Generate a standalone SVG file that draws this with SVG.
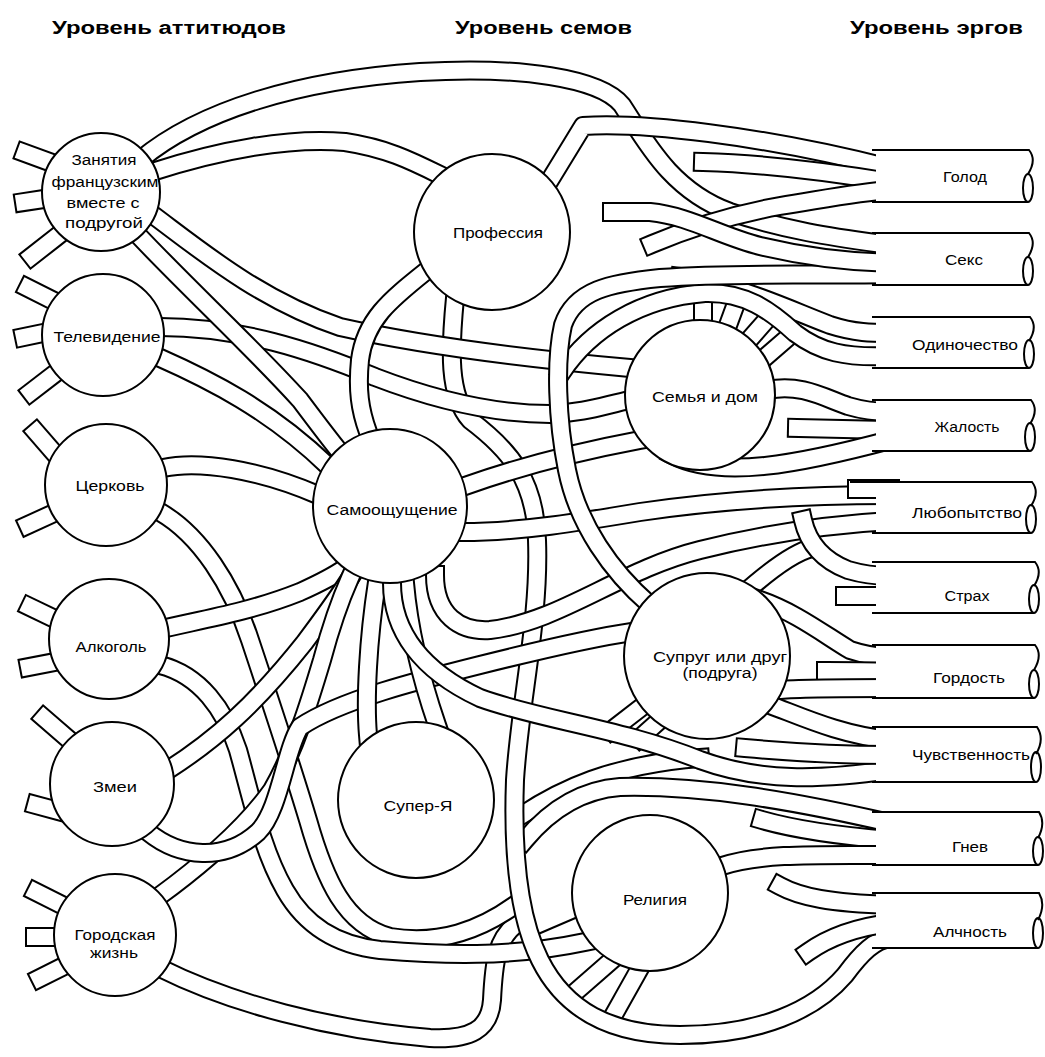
<svg xmlns="http://www.w3.org/2000/svg" width="1045" height="1057" viewBox="0 0 1045 1057">
<style>
.o{fill:none;stroke:#000;stroke-width:20;stroke-linecap:square;stroke-linejoin:round}
.i{fill:none;stroke:#fff;stroke-width:16;stroke-linecap:square;stroke-linejoin:round}
.n{fill:#fff;stroke:#000;stroke-width:2}
.ef{fill:#fff;stroke:none}
.el{fill:none;stroke:#000;stroke-width:2}
text{font-family:"Liberation Sans",Arial,sans-serif;font-size:14px;fill:#000;text-anchor:middle}
.h{font-size:18px;font-weight:bold;text-anchor:start}
</style>
<rect width="1045" height="1057" fill="#fff"/>
<defs>
<path id="s1" d="M55,164 L25,153"/><path id="s2" d="M50,198 L24,202"/><path id="s3" d="M55,238 L32,256"/>
<path id="s4" d="M52,300 L28,288"/><path id="s5" d="M48,332 L24,337"/><path id="s6" d="M57,372 L31,392"/>
<path id="s7" d="M62,462 L36,432"/><path id="s8" d="M52,514 L28,525"/><path id="s9" d="M57,620 L30,607"/>
<path id="s10" d="M55,662 L29,667"/><path id="s11" d="M74,744 L44,718"/><path id="s12" d="M62,812 L36,805"/>
<path id="s13" d="M64,906 L36,892"/><path id="s14" d="M60,937 L35,937"/><path id="s15" d="M64,966 L40,978"/>
<path id="r1" d="M703,290 L703,325"/><path id="r2" d="M738,298 L727,328"/><path id="r3" d="M770,316 L748,341"/><path id="r4" d="M792,334 L762,360"/>
<path id="r5" d="M540,943 L582,925"/><path id="r6" d="M572,995 L612,960"/><path id="r7" d="M612,1018 L640,968"/>
<path id="r8" d="M612,730 L643,706"/><path id="r9" d="M640,738 L660,720"/>
<path id="gj2" d="M160,968 C230,1003 330,1030 430,1038 C470,1040 490,1030 492,1000 C494,960 497,940 515,925"/>
<path id="c2" d="M160,512 C200,535 232,585 250,640 C270,700 290,760 308,820 C325,880 345,925 390,937 C440,945 480,930 515,905"/>
<path id="al2" d="M160,665 C200,675 225,710 238,750 C252,800 262,850 285,890 C305,925 335,945 380,950 C440,955 510,958 585,942"/>
<path id="pv2" d="M522,815 C560,790 610,765 700,758"/>
<path id="gn1" d="M525,840 C550,810 580,790 620,787 C700,785 790,800 890,823"/>
<path id="pv" d="M455,298 C450,350 448,395 470,420 C510,450 535,480 537,540 C540,620 520,700 515,780 C512,860 520,920 540,960 C565,1010 610,1035 680,1035 C760,1035 815,1010 845,975 C862,952 875,940 890,938"/>
<path id="z1" d="M140,160 C200,110 300,80 420,72 C520,66 600,78 622,105 C645,140 670,190 730,212 C790,232 840,238 890,245"/>
<path id="z2" d="M152,172 C220,150 290,137 345,142 C385,148 410,160 440,175"/>
<path id="z3" d="M153,215 C200,250 260,300 340,327 C420,345 520,358 630,368"/>
<path id="tv1" d="M160,327 C240,327 310,350 375,377 C440,402 500,414 550,414 C585,413 605,405 630,400"/>
<path id="z4" d="M138,235 C190,290 250,345 300,400 C315,420 330,440 340,452"/>
<path id="tv2" d="M158,357 C210,380 270,410 328,466"/>
<path id="c1" d="M163,468 C200,460 260,470 318,495"/>
<path id="al1" d="M166,628 C200,620 250,612 300,592 C320,583 335,575 345,568"/>
<path id="zm1" d="M168,770 C215,740 255,705 305,642 C325,615 340,595 352,575"/>
<path id="gj1" d="M158,897 C206,862 245,828 272,790 C295,750 310,700 322,660 C330,630 338,605 350,578"/>
<path id="zm2" d="M148,832 C180,858 225,862 258,832 C280,810 285,750 300,727 C340,700 420,680 480,665 C540,650 590,638 632,632"/>
<path id="ps" d="M425,272 C390,300 365,320 360,360 C357,390 360,410 368,432"/>
<path id="ss1" d="M377,582 C368,640 365,700 368,735"/>
<path id="ss2" d="M405,583 C410,640 425,690 437,725"/>
<path id="sa2" d="M465,486 C510,470 560,455 640,440"/>
<path id="l1" d="M463,532 C520,532 580,522 640,512 C720,500 800,495 890,495"/>
<path id="l3" d="M435,575 C435,615 460,632 490,630 C560,622 620,570 700,550 C760,535 820,525 890,521"/>
<path id="ch3" d="M392,583 C392,630 420,670 480,698 C540,720 620,728 700,760 C760,782 820,780 890,770"/>
<path id="o2" d="M680,277 C740,285 790,310 830,325 C855,333 872,333 890,333"/>
<path id="o1" d="M562,372 C590,330 640,298 705,293 C745,292 770,310 795,333 C820,352 845,358 890,356"/>
<path id="v1" d="M650,605 C612,572 578,525 567,470 C557,420 555,360 563,325 C575,290 610,283 660,278 C740,272 820,276 890,274"/>
<path id="pg" d="M550,180 L583,126 C640,122 760,135 890,168"/>
<path id="g2" d="M703,162 C770,164 830,172 890,182"/>
<path id="g3" d="M652,244 C690,228 730,215 780,206 C830,198 860,192 890,190"/>
<path id="s2t" d="M612,212 L650,212 C690,216 720,236 760,246 C810,258 850,262 890,263"/>
<path id="j1" d="M768,390 C800,383 825,398 848,406 C865,411 878,412 890,412"/>
<path id="j2" d="M797,428 L890,430"/>
<path id="j3" d="M672,455 C720,480 800,464 890,440"/>
<path id="l2" d="M857,489 L890,489"/>
<path id="su1" d="M742,595 C770,570 795,552 812,548"/>
<path id="st1" d="M803,520 C808,542 822,560 848,570 C865,575 878,576 890,576"/>
<path id="st2" d="M845,596 L890,596"/>
<path id="go1" d="M760,600 C795,612 825,635 850,650 C865,655 878,657 890,657"/>
<path id="go2" d="M826,671 C845,671 865,671 890,672"/>
<path id="go3" d="M780,690 C800,688 840,688 890,688"/>
<path id="ch1" d="M770,705 C800,716 840,735 890,740"/>
<path id="ch2" d="M745,748 C790,752 840,755 890,755"/>
<path id="gn2" d="M762,820 C790,828 830,835 890,840"/>
<path id="gn3" d="M722,866 C760,853 820,855 890,855"/>
<path id="a1" d="M780,886 C800,897 830,903 890,905"/>
<path id="a2" d="M808,952 C825,940 850,928 890,923"/>
</defs>
<g id="connectors">
<use href="#s1" class="o"/><use href="#s1" class="i"/><use href="#s2" class="o"/><use href="#s2" class="i"/><use href="#s3" class="o"/><use href="#s3" class="i"/>
<use href="#s4" class="o"/><use href="#s4" class="i"/><use href="#s5" class="o"/><use href="#s5" class="i"/><use href="#s6" class="o"/><use href="#s6" class="i"/>
<use href="#s7" class="o"/><use href="#s7" class="i"/><use href="#s8" class="o"/><use href="#s8" class="i"/><use href="#s9" class="o"/><use href="#s9" class="i"/>
<use href="#s10" class="o"/><use href="#s10" class="i"/><use href="#s11" class="o"/><use href="#s11" class="i"/><use href="#s12" class="o"/><use href="#s12" class="i"/>
<use href="#s13" class="o"/><use href="#s13" class="i"/><use href="#s14" class="o"/><use href="#s14" class="i"/><use href="#s15" class="o"/><use href="#s15" class="i"/>
<use href="#r1" class="o"/><use href="#r1" class="i"/><use href="#r2" class="o"/><use href="#r2" class="i"/><use href="#r3" class="o"/><use href="#r3" class="i"/><use href="#r4" class="o"/><use href="#r4" class="i"/>
<use href="#r5" class="o"/><use href="#r5" class="i"/><use href="#r6" class="o"/><use href="#r6" class="i"/><use href="#r7" class="o"/><use href="#r7" class="i"/>
<use href="#r8" class="o"/><use href="#r8" class="i"/><use href="#r9" class="o"/><use href="#r9" class="i"/>
<use href="#gj2" class="o"/><use href="#gj2" class="i"/>
<use href="#c2" class="o"/><use href="#c2" class="i"/>
<use href="#al2" class="o"/><use href="#al2" class="i"/>
<use href="#pv2" class="o"/><use href="#pv2" class="i"/>
<use href="#gn1" class="o"/><use href="#gn1" class="i"/>
<use href="#pv" class="o"/><use href="#pv" class="i"/>
<use href="#z1" class="o"/><use href="#z1" class="i"/>
<use href="#z2" class="o"/><use href="#z2" class="i"/>
<use href="#z3" class="o"/><use href="#z3" class="i"/>
<use href="#tv1" class="o"/><use href="#tv1" class="i"/>
<use href="#z4" class="o"/><use href="#z4" class="i"/>
<use href="#tv2" class="o"/><use href="#tv2" class="i"/>
<use href="#c1" class="o"/><use href="#c1" class="i"/>
<use href="#al1" class="o"/><use href="#al1" class="i"/>
<use href="#zm1" class="o"/><use href="#zm1" class="i"/>
<use href="#gj1" class="o"/><use href="#gj1" class="i"/>
<use href="#zm2" class="o"/><use href="#zm2" class="i"/>
<use href="#ps" class="o"/><use href="#ps" class="i"/>
<use href="#ss1" class="o"/><use href="#ss1" class="i"/>
<use href="#ss2" class="o"/><use href="#ss2" class="i"/>
<use href="#sa2" class="o"/><use href="#sa2" class="i"/>
<use href="#l1" class="o"/><use href="#l1" class="i"/>
<use href="#l3" class="o"/><use href="#l3" class="i"/>
<use href="#ch3" class="o"/><use href="#ch3" class="i"/>
<use href="#o2" class="o"/><use href="#o2" class="i"/>
<use href="#o1" class="o"/><use href="#o1" class="i"/>
<use href="#v1" class="o"/><use href="#v1" class="i"/>
<use href="#pg" class="o"/><use href="#pg" class="i"/>
<use href="#g2" class="o"/><use href="#g2" class="i"/>
<use href="#g3" class="o"/><use href="#g3" class="i"/>
<use href="#s2t" class="o"/><use href="#s2t" class="i"/>
<use href="#j1" class="o"/><use href="#j1" class="i"/>
<use href="#j2" class="o"/><use href="#j2" class="i"/>
<use href="#j3" class="o"/><use href="#j3" class="i"/>
<use href="#l2" class="o"/><use href="#l2" class="i"/>
<use href="#su1" class="o"/><use href="#su1" class="i"/>
<use href="#st1" class="o"/><use href="#st1" class="i"/>
<use href="#st2" class="o"/><use href="#st2" class="i"/>
<use href="#go1" class="o"/><use href="#go1" class="i"/>
<use href="#go2" class="o"/><use href="#go2" class="i"/>
<use href="#go3" class="o"/><use href="#go3" class="i"/>
<use href="#ch1" class="o"/><use href="#ch1" class="i"/>
<use href="#ch2" class="o"/><use href="#ch2" class="i"/>
<use href="#gn2" class="o"/><use href="#gn2" class="i"/>
<use href="#gn3" class="o"/><use href="#gn3" class="i"/>
<use href="#a1" class="o"/><use href="#a1" class="i"/>
<use href="#a2" class="o"/><use href="#a2" class="i"/>
</g>
<g id="headers">
<text class="h" x="52" y="34" textLength="234" lengthAdjust="spacingAndGlyphs">Уровень аттитюдов</text>
<text class="h" x="455" y="34" textLength="177" lengthAdjust="spacingAndGlyphs">Уровень семов</text>
<text class="h" x="850" y="34" textLength="173" lengthAdjust="spacingAndGlyphs">Уровень эргов</text>
</g>
<g id="n-zanyatiya"><circle class="n" cx="101" cy="192" r="59"/>
<text x="104" y="165" textLength="65" lengthAdjust="spacingAndGlyphs">Занятия</text>
<text x="105" y="187" textLength="107" lengthAdjust="spacingAndGlyphs">французским</text>
<text x="103" y="208" textLength="73" lengthAdjust="spacingAndGlyphs">вместе с</text>
<text x="104" y="228" textLength="78" lengthAdjust="spacingAndGlyphs">подругой</text></g>
<g id="n-televidenie"><circle class="n" cx="103" cy="335" r="61"/><text x="107" y="342" textLength="107" lengthAdjust="spacingAndGlyphs">Телевидение</text></g>
<g id="n-tserkov"><circle class="n" cx="106" cy="485" r="61"/><text x="110" y="491" textLength="69" lengthAdjust="spacingAndGlyphs">Церковь</text></g>
<g id="n-alkogol"><circle class="n" cx="109" cy="639" r="60"/><text x="111" y="652" textLength="71" lengthAdjust="spacingAndGlyphs">Алкоголь</text></g>
<g id="n-zmei"><circle class="n" cx="112" cy="784" r="62"/><text x="115" y="792" textLength="44" lengthAdjust="spacingAndGlyphs">Змеи</text></g>
<g id="n-gorod"><circle class="n" cx="115" cy="935" r="61"/>
<text x="115" y="940" textLength="81" lengthAdjust="spacingAndGlyphs">Городская</text>
<text x="114" y="958" textLength="48" lengthAdjust="spacingAndGlyphs">жизнь</text></g>
<g id="n-professiya"><circle class="n" cx="492" cy="232" r="78"/><text x="498" y="238" textLength="90" lengthAdjust="spacingAndGlyphs">Профессия</text></g>
<g id="n-samo"><circle class="n" cx="390" cy="506" r="77"/><text x="392" y="515" textLength="131" lengthAdjust="spacingAndGlyphs">Самоощущение</text></g>
<g id="n-semya"><circle class="n" cx="700" cy="395" r="75"/><text x="705" y="402" textLength="106" lengthAdjust="spacingAndGlyphs">Семья и дом</text></g>
<g id="n-suprug"><circle class="n" cx="707" cy="656" r="83"/>
<text x="720" y="662" textLength="134" lengthAdjust="spacingAndGlyphs">Супруг или друг</text>
<text x="720" y="678" textLength="75" lengthAdjust="spacingAndGlyphs">(подруга)</text></g>
<g id="n-super"><circle class="n" cx="416" cy="800" r="78"/><text x="418" y="811" textLength="69" lengthAdjust="spacingAndGlyphs">Супер-Я</text></g>
<g id="n-religiya"><circle class="n" cx="650" cy="893" r="78"/><text x="655" y="905" textLength="64" lengthAdjust="spacingAndGlyphs">Религия</text></g>
<g id="e-golod"><rect class="ef" x="876" y="151" width="154" height="50"/><path class="el" d="M872,150 H1029 Q1037,160 1028,174 M872,202 H1028"/><ellipse class="el" cx="1028" cy="188" rx="5" ry="14"/><text x="965" y="182" textLength="44" lengthAdjust="spacingAndGlyphs">Голод</text></g>
<g id="e-seks"><rect class="ef" x="876" y="234" width="154" height="50"/><path class="el" d="M872,233 H1029 Q1037,243 1028,257 M872,285 H1028"/><ellipse class="el" cx="1028" cy="271" rx="5" ry="14"/><text x="964" y="265" textLength="38" lengthAdjust="spacingAndGlyphs">Секс</text></g>
<g id="e-odinoch"><rect class="ef" x="876" y="318" width="155" height="49"/><path class="el" d="M872,317 H1030 Q1038,327 1029,341 M872,368 H1029"/><ellipse class="el" cx="1029" cy="354" rx="5" ry="14"/><text x="965" y="350" textLength="106" lengthAdjust="spacingAndGlyphs">Одиночество</text></g>
<g id="e-zhalost"><rect class="ef" x="876" y="401" width="156" height="49"/><path class="el" d="M872,400 H1031 Q1039,410 1030,424 M872,451 H1030"/><ellipse class="el" cx="1030" cy="437" rx="5" ry="14"/><text x="967" y="432" textLength="65" lengthAdjust="spacingAndGlyphs">Жалость</text></g>
<g id="e-lyubop"><rect class="ef" x="876" y="483" width="157" height="49"/><path class="el" d="M850,482 H1032 Q1040,492 1031,506 M872,533 H1031"/><ellipse class="el" cx="1031" cy="519" rx="5" ry="14"/><text x="967" y="518" textLength="110" lengthAdjust="spacingAndGlyphs">Любопытство</text></g>
<g id="e-strakh"><rect class="ef" x="876" y="563" width="160" height="49"/><path class="el" d="M872,562 H1035 Q1043,572 1034,586 M872,613 H1034"/><ellipse class="el" cx="1034" cy="599" rx="5" ry="14"/><text x="967" y="601" textLength="45" lengthAdjust="spacingAndGlyphs">Страх</text></g>
<g id="e-gordost"><rect class="ef" x="876" y="646" width="160" height="51"/><path class="el" d="M872,645 H1035 Q1043,655 1034,670 M872,698 H1034"/><ellipse class="el" cx="1034" cy="684" rx="5" ry="14"/><text x="969" y="683" textLength="72" lengthAdjust="spacingAndGlyphs">Гордость</text></g>
<g id="e-chuvstv"><rect class="ef" x="876" y="728" width="162" height="53"/><path class="el" d="M872,727 H1037 Q1045,739 1036,754 M872,782 H1036"/><ellipse class="el" cx="1036" cy="767" rx="5" ry="15"/><text x="971" y="760" textLength="118" lengthAdjust="spacingAndGlyphs">Чувственность</text></g>
<g id="e-gnev"><rect class="ef" x="876" y="813" width="164" height="51"/><path class="el" d="M872,812 H1039 Q1046,823 1038,838 M872,865 H1038"/><ellipse class="el" cx="1038" cy="851" rx="5" ry="14"/><text x="970" y="852" textLength="36" lengthAdjust="spacingAndGlyphs">Гнев</text></g>
<g id="e-alchnost"><rect class="ef" x="876" y="894" width="164" height="53"/><path class="el" d="M872,893 H1039 Q1046,905 1038,920 M872,948 H1038"/><ellipse class="el" cx="1038" cy="933" rx="5" ry="15"/><text x="970" y="937" textLength="74" lengthAdjust="spacingAndGlyphs">Алчность</text></g>
</svg>
